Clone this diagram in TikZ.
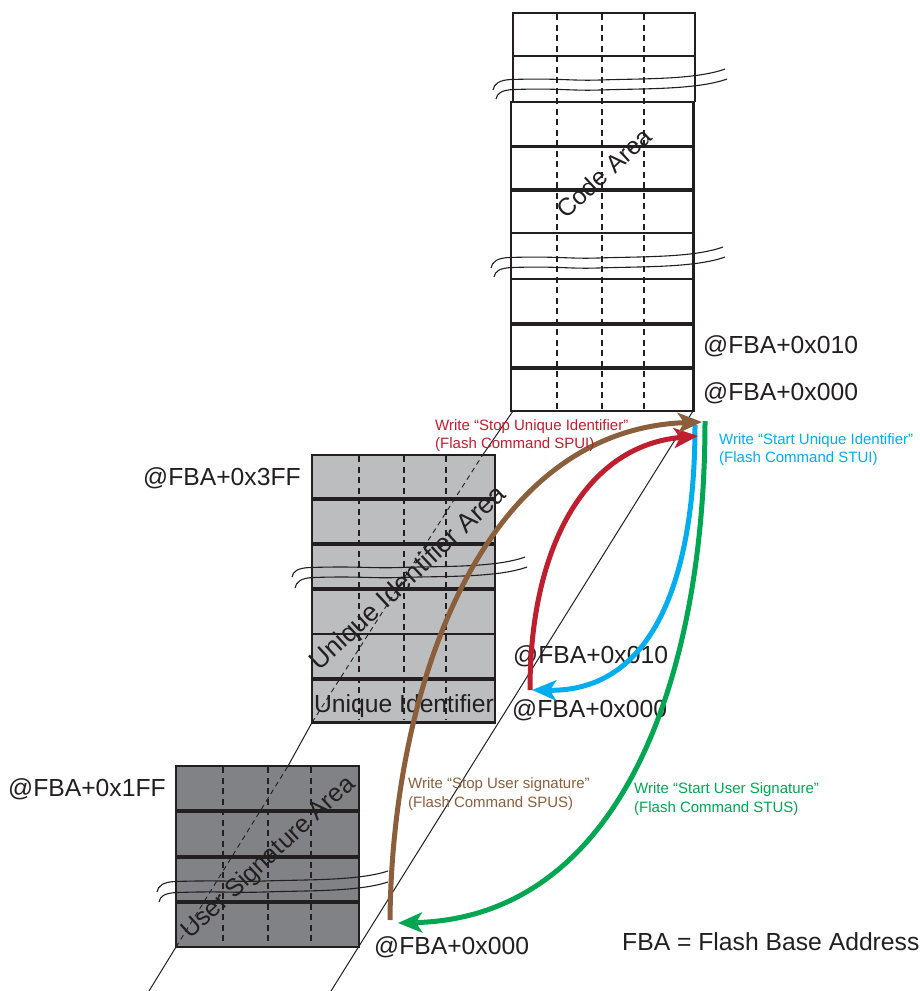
\documentclass[tikz,border=0pt]{standalone}
\usepackage{fontspec}
\setmainfont{Liberation Sans}
\usetikzlibrary{arrows.meta}
\definecolor{ink}{HTML}{231F20}
\definecolor{midgray}{HTML}{BBBDBF}
\definecolor{darkgray}{HTML}{808285}
\definecolor{cred}{HTML}{BE1E2D}
\definecolor{cblue}{HTML}{00AEEF}
\definecolor{cgreen}{HTML}{00A651}
\definecolor{cbrown}{HTML}{8B5E3C}
\tikzset{
  x=1pt,y=-1pt,
  frame/.style={draw=ink,line width=2.4pt},
  thin rule/.style={draw=ink,line width=2.1pt},
  thick rule/.style={draw=ink,line width=3.2pt},
  column/.style={draw=ink,line width=1.2pt,dash pattern=on 6pt off 4.5pt},
  diag/.style={draw=ink,line width=1pt},
  diag dash/.style={draw=ink,line width=0.9pt,dash pattern=on 5pt off 4pt},
  wave/.style={draw=ink,line width=1.1pt},
  addr/.style={inner sep=0pt,anchor=base west,text=ink,font=\fontsize{24.7}{28}\selectfont},
  area/.style={inner sep=0pt,text=ink,font=\fontsize{24.7}{28}\selectfont,rotate=43},
  note/.style={inner sep=0pt,anchor=base west,font=\fontsize{15}{18}\selectfont},
  flow/.style={line width=5pt,-{Stealth[length=24pt,width=20pt,inset=6pt]}},
}
\begin{document}
\begin{tikzpicture}
\useasboundingbox (0,0) rectangle (920,991);
% coordinates of the flow ends
\coordinate (codeA) at (702,422);
\coordinate (codeB) at (698,436);
\coordinate (codeC) at (695,425);
\coordinate (codeD) at (705,421);
\coordinate (uidA) at (530,690);
\coordinate (uidB) at (532,690);
\coordinate (sigA) at (390,920);
\coordinate (sigB) at (398,923);
% code area
\foreach \x in {557,602,644} \draw[column] (\x,14) -- (\x,411);
\draw[frame] (513,102) -- (513,13) -- (695,13) -- (695,102);
\draw[thin rule] (513,56) -- (695,56);
\draw[frame] (511,102) rectangle (693.5,411);
\draw[thick rule] (511,146.5) -- (693.5,146.5);
\draw[thick rule] (511,190) -- (693.5,190);
\draw[thin rule] (511,233) -- (693.5,233);
\draw[thin rule] (511,279) -- (693.5,279);
\draw[thick rule] (511,324) -- (693.5,324);
\draw[thick rule] (511,368) -- (693.5,368);
\draw[wave] (493,90) .. controls (494,84) and (499,80) .. (511,79.5) .. controls (560,78) and (570,81) .. (600,80) .. controls (640,78.5) and (695,80) .. (725,69);
\draw[wave] (496,99) .. controls (497,93) and (502,90) .. (514,89.5) .. controls (560,88) and (570,91) .. (600,90) .. controls (640,88.5) and (697,90) .. (727,79);
\draw[wave] (491,268) .. controls (492,262) and (497,258) .. (509,257.5) .. controls (558,256) and (568,259) .. (598,258) .. controls (638,256.5) and (693,258) .. (723,247);
\draw[wave] (494,277) .. controls (495,271) and (500,268) .. (512,267.5) .. controls (558,266) and (568,269) .. (598,268) .. controls (638,266.5) and (695,268) .. (725,257);
\node[area] (codetxt) at (604,173) {Code Area};
% unique identifier area
\fill[midgray] (312,455) rectangle (495,722.5);
\foreach \x in {359,404,446} \draw[column] (\x,456) -- (\x,720);
\draw[frame] (312,455) rectangle (495,722.5);
\draw[thick rule] (312,499) -- (495,499);
\draw[thick rule] (312,544) -- (495,544);
\draw[thick rule] (312,589) -- (495,589);
\draw[thin rule] (312,634) -- (495,634);
\draw[thick rule] (312,679) -- (495,679);
\draw[wave] (292,577) .. controls (293,571) and (298,568) .. (310,567.5) .. controls (360,566) and (370,568.5) .. (400,567.5) .. controls (440,566) and (495,568) .. (525,557);
\draw[wave] (295,588) .. controls (296,582) and (301,578) .. (313,577.5) .. controls (360,576) and (370,578.5) .. (400,577.5) .. controls (440,576) and (497,578) .. (527,567);
\node[area,font=\fontsize{26.5}{30}\selectfont] (uidtxt) at (409,579) {Unique Identifier Area};
\node[inner sep=0pt,anchor=base,text=ink,font=\fontsize{24.7}{28}\selectfont] (uidlabel) at (404,712) {Unique Identifier};
% user signature area
\fill[darkgray] (175.7,766) rectangle (358.7,947);
\foreach \x in {223,268,311} \draw[column] (\x,767) -- (\x,943);
\draw[frame] (175.7,766) rectangle (358.7,947);
\draw[thick rule] (175.7,811) -- (358.7,811);
\draw[thick rule] (175.7,857) -- (358.7,857);
\draw[thick rule] (175.7,902) -- (358.7,902);
\draw[wave] (157,892) .. controls (158,886) and (163,882) .. (175,881.5) .. controls (224,880) and (234,882) .. (264,881) .. controls (304,879.5) and (358,881) .. (388,871);
\draw[wave] (159,902) .. controls (160,896) and (165,893) .. (177,892.5) .. controls (224,891) and (234,893) .. (264,892) .. controls (304,890.5) and (358,892) .. (388,882);
\node[area,font=\fontsize{25}{29}\selectfont] (sigtxt) at (269,858) {User Signature Area};
% projection lines
\coordinate (ll0) at (149,991);
\coordinate (ll1) at (176,947);
\coordinate (ll2) at (288,766);
\coordinate (ll3) at (312,722.5);
\coordinate (ll4) at (482,456);
\coordinate (ll5) at (513,411);
\coordinate (rl0) at (331,991);
\coordinate (rl1) at (693,411);
\draw[diag] (ll0) -- (ll1);
\draw[diag dash] (ll1) -- (ll2);
\draw[diag] (ll2) -- (ll3);
\draw[diag dash] (ll3) -- (ll4);
\draw[diag] (ll4) -- (ll5);
\draw[diag] (rl0) -- (rl1);
% addresses
\node[addr] (a1) at (703,353) {@FBA+0x010};
\node[addr] (a2) at (703,400) {@FBA+0x000};
\node[addr] (a3) at (143,485) {@FBA+0x3FF};
\node[addr] (a4) at (513,663) {@FBA+0x010};
\node[addr] (a5) at (512,717) {@FBA+0x000};
\node[addr] (a6) at (8,796) {@FBA+0x1FF};
\node[addr] (a7) at (374,954) {@FBA+0x000};
\node[addr] (a8) at (622,950) {FBA = Flash Base Address};
% flows
\draw[flow,cblue] (codeC) .. controls (695,575) and (655,692) .. (uidB);
\draw[flow,cred] (uidA) .. controls (530,540) and (590,445) .. (codeB);
\draw[flow,cbrown] (sigA) .. controls (392,690) and (480,430) .. (codeA);
\draw[flow,cgreen] (codeD) .. controls (705,680) and (620,918) .. (sigB);
% notes
\node[note,text=cred] (n1) at (435,430) {Write “Stop Unique Identifier”};
\node[note,text=cred] (n2) at (435,448) {(Flash Command SPUI)};
\node[note,text=cblue] (n3) at (719,444) {Write “Start Unique Identifier”};
\node[note,text=cblue] (n4) at (719,462) {(Flash Command STUI)};
\node[note,text=cbrown] (n5) at (408,788) {Write “Stop User signature”};
\node[note,text=cbrown] (n6) at (408,807) {(Flash Command SPUS)};
\node[note,text=cgreen] (n7) at (634,793) {Write “Start User Signature”};
\node[note,text=cgreen] (n8) at (634,812) {(Flash Command STUS)};
\end{tikzpicture}
\end{document}
